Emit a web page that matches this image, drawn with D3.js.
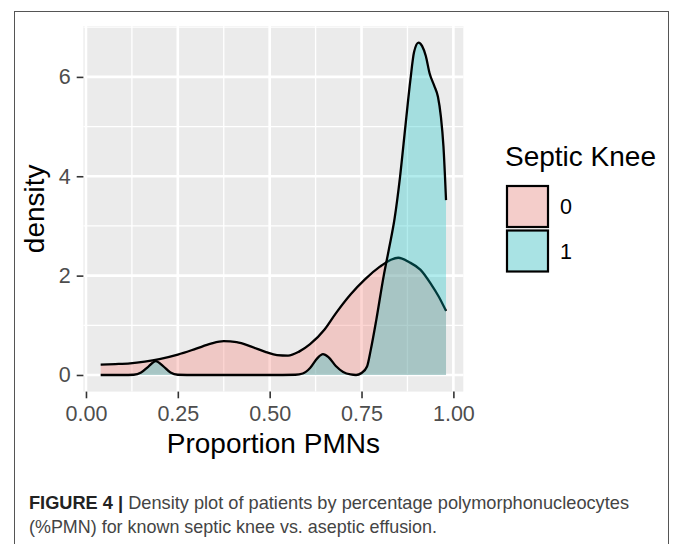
<!DOCTYPE html>
<meta charset="utf-8">
<style>
body { margin: 0; background: #fff; }
svg { display: block; font-family: "Liberation Sans", Arial, sans-serif; }
.grid-major { stroke: #fff; stroke-width: 2.6; }
.grid-minor { stroke: #fff; stroke-width: 1.3; }
.tick line { stroke: #333; stroke-width: 1.6; }
.tick text { fill: #4d4d4d; font-size: 21.5px; }
.axis path { display: none; }
.caption { font-family: "Liberation Sans Narrow", "Liberation Sans", sans-serif; font-size: 18.5px; fill: #444; }
</style>
<body>
<svg width="674" height="544"></svg>
<script src="https://cdn.jsdelivr.net/npm/d3@7"></script>
<script>

// group 0 (no septic knee)
var x0 = [0.04, 0.08, 0.12, 0.16, 0.20, 0.25, 0.30, 0.34, 0.375, 0.41, 0.45, 0.49, 0.52, 0.55, 0.58, 0.61, 0.65, 0.68, 0.72, 0.76, 0.80, 0.83, 0.85, 0.88, 0.91, 0.94, 0.96, 0.98];
var d0 = [0.21, 0.22, 0.235, 0.27, 0.32, 0.41, 0.53, 0.63, 0.68, 0.66, 0.57, 0.46, 0.40, 0.39, 0.47, 0.62, 0.92, 1.24, 1.62, 1.93, 2.18, 2.32, 2.36, 2.27, 2.12, 1.82, 1.58, 1.29];

// group 1 (septic knee)
var x1 = [0.04, 0.10, 0.13, 0.15, 0.17, 0.19, 0.21, 0.23, 0.25, 0.30, 0.40, 0.50, 0.57, 0.59, 0.61, 0.63, 0.645, 0.66, 0.68, 0.70, 0.72, 0.735, 0.75, 0.765, 0.775, 0.79, 0.81, 0.825, 0.84, 0.855, 0.87, 0.883, 0.893, 0.905, 0.915, 0.925, 0.935, 0.948, 0.958, 0.966, 0.973, 0.98];
var d1 = [0, 0, 0.005, 0.05, 0.17, 0.28, 0.18, 0.05, 0.005, 0, 0, 0, 0.005, 0.03, 0.14, 0.34, 0.42, 0.36, 0.18, 0.06, 0.01, 0, 0.04, 0.17, 0.5, 1.1, 1.98, 2.55, 3.15, 4.0, 5.05, 5.94, 6.5, 6.69, 6.62, 6.42, 6.08, 5.82, 5.6, 5.2, 4.6, 3.52];

var groups = ["0", "1"];
var fills = ["#F8766D", "#00BFC4"];
var xTicks = [0, 0.25, 0.5, 0.75, 1];
var xMinor = [0.125, 0.375, 0.625, 0.875];
var yTicks = [0, 2, 4, 6];
var yMinor = [1, 3, 5, 7];

var svg = d3.select("svg");

// outer frame of the figure
svg.append("rect")
    .attr("x", 14.5).attr("y", 11.5)
    .attr("width", 654).attr("height", 600)
    .attr("fill", "none").attr("stroke", "#555").attr("stroke-width", 1);

var panel = {left: 83.4, right: 463.3, top: 26, bottom: 391.6};

var x = d3.scaleLinear().domain([-0.007, 1.027]).range([panel.left, panel.right]);
var y = d3.scaleLinear().domain([-0.3345, 7.0245]).range([panel.bottom, panel.top]);

svg.append("rect")
    .attr("x", panel.left).attr("y", panel.top)
    .attr("width", panel.right - panel.left).attr("height", panel.bottom - panel.top)
    .attr("fill", "#ebebeb");

var g = svg.append("g");

g.selectAll(".gx-minor").data(xMinor).enter().append("line")
    .attr("class", "grid-minor")
    .attr("x1", x).attr("x2", x).attr("y1", panel.top).attr("y2", panel.bottom);
g.selectAll(".gy-minor").data(yMinor).enter().append("line")
    .attr("class", "grid-minor")
    .attr("y1", y).attr("y2", y).attr("x1", panel.left).attr("x2", panel.right);
g.selectAll(".gx").data(xTicks).enter().append("line")
    .attr("class", "grid-major")
    .attr("x1", x).attr("x2", x).attr("y1", panel.top).attr("y2", panel.bottom);
g.selectAll(".gy").data(yTicks).enter().append("line")
    .attr("class", "grid-major")
    .attr("y1", y).attr("y2", y).attr("x1", panel.left).attr("x2", panel.right);

// densities: fill then upper outline, one group after the other
var series = [d3.zip(x0, d0), d3.zip(x1, d1)];

var area = d3.area()
    .x(function(d) { return x(d[0]); })
    .y0(y(0))
    .y1(function(d) { return y(d[1]); })
    .curve(d3.curveMonotoneX);
var line = d3.line()
    .x(function(d) { return x(d[0]); })
    .y(function(d) { return y(d[1]); })
    .curve(d3.curveMonotoneX);

series.forEach(function(s, i) {
  g.append("path").attr("d", area(s))
      .attr("fill", fills[i]).attr("fill-opacity", 0.3);
  g.append("path").attr("d", line(s))
      .attr("fill", "none").attr("stroke", "#000").attr("stroke-width", 2.3);
});

// axes
svg.append("g")
    .attr("class", "axis")
    .attr("transform", "translate(0," + panel.bottom + ")")
    .call(d3.axisBottom(x).tickValues(xTicks).tickFormat(d3.format(".2f")).tickSizeOuter(0).tickSize(6.7).tickPadding(7));

svg.append("g")
    .attr("class", "axis")
    .attr("transform", "translate(" + panel.left + ",0)")
    .call(d3.axisLeft(y).tickValues(yTicks).tickSizeOuter(0).tickSize(6.7).tickPadding(6));

svg.append("text")
    .attr("x", (panel.left + panel.right) / 2)
    .attr("y", 453)
    .attr("text-anchor", "middle")
    .style("font-size", "28px")
    .text("Proportion PMNs");

svg.append("text")
    .attr("transform", "translate(43.5," + (panel.top + panel.bottom) / 2 + ") rotate(-90)")
    .attr("text-anchor", "middle")
    .style("font-size", "28px")
    .text("density");

// legend
var legend = svg.append("g");
legend.append("text")
    .attr("x", 505).attr("y", 166)
    .style("font-size", "28px")
    .text("Septic Knee");

var key = legend.selectAll(".key").data(groups).enter().append("g")
    .attr("transform", function(d, i) { return "translate(507," + (186 + i * 44.5) + ")"; });
key.append("rect")
    .attr("width", 41).attr("height", 41)
    .attr("fill", "#f2f2f2");
key.append("rect")
    .attr("width", 41).attr("height", 41)
    .attr("fill", function(d, i) { return fills[i]; })
    .attr("fill-opacity", 0.3)
    .attr("stroke", "#000").attr("stroke-width", 2.2);
key.append("text")
    .attr("x", 53).attr("y", 28)
    .style("font-size", "21.5px")
    .text(function(d) { return d; });

// caption
var cap1 = svg.append("text")
    .attr("class", "caption")
    .attr("x", 29).attr("y", 509)
    .attr("textLength", 600).attr("lengthAdjust", "spacingAndGlyphs");
cap1.append("tspan").style("font-weight", "bold").style("fill", "#222").text("FIGURE 4 |");
cap1.append("tspan").text(" Density plot of patients by percentage polymorphonucleocytes");

svg.append("text")
    .attr("class", "caption")
    .attr("x", 29).attr("y", 533)
    .attr("textLength", 408).attr("lengthAdjust", "spacingAndGlyphs")
    .text("(%PMN) for known septic knee vs. aseptic effusion.");

</script>
</body>
